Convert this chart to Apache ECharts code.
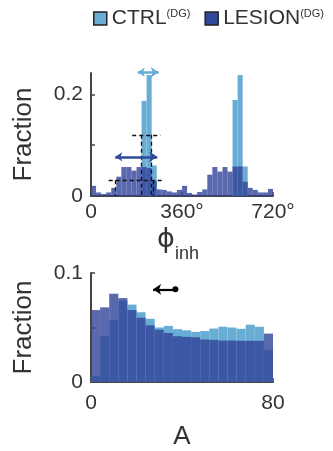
<!DOCTYPE html>
<html>
<head>
<meta charset="utf-8">
<script src="https://cdn.jsdelivr.net/npm/echarts@6/dist/echarts.min.js"></script>
<style>
  html, body { margin: 0; padding: 0; background: #fff; }
  #chart { width: 333px; height: 451px; }
</style>
</head>
<body>
<div id="chart"></div>
<script>
// Phase histogram: 36 bins of 20 degrees over 0..720
const phaseBinWidth = 20;
const phaseCtrl = [
  0, 0, 0, 0, 0, 0, 0, 0, 0, 0, 0.187, 0.238, 0.060, 0, 0, 0, 0, 0,
  0, 0, 0, 0, 0, 0, 0, 0, 0, 0, 0.189, 0.238, 0.058, 0, 0, 0, 0, 0
];
const phaseLesion = [
  0.020, 0.007, 0.004, 0.007, 0.016, 0.038, 0.057, 0.057, 0.050, 0.057, 0.057, 0.055,
  0.030, 0.013, 0.012, 0.009, 0.007, 0.012, 0.020, 0.006, 0.003, 0.008, 0.013, 0.042,
  0.057, 0.048, 0.057, 0.048, 0.058, 0.058, 0.028, 0.016, 0.012, 0.007, 0.007, 0.014
];

// Amplitude histogram: 20 bins of width 4 over 0..80
const ampBinWidth = 4;
const ampCtrl = [
  0.0055, 0.042, 0.057, 0.0745, 0.071, 0.064, 0.058, 0.050, 0.0515, 0.0485,
  0.0474, 0.046, 0.0468, 0.049, 0.0507, 0.050, 0.0488, 0.0526, 0.0507, 0.0295
];
const ampLesion = [
  0.066, 0.0685, 0.081, 0.077, 0.066, 0.059, 0.052, 0.048, 0.045, 0.042,
  0.0414, 0.041, 0.039, 0.0386, 0.038, 0.038, 0.0378, 0.0378, 0.0378, 0.0444
];

// Tick values
const phaseTicksX = [0, 360, 720];
const phaseTicksY = [0, 0.1, 0.2];
const phaseLabelsY = [0, 0.2];
const ampTicksX = [0, 40, 80];
const ampLabelsX = [0, 80];
const ampTicksY = [0, 0.05, 0.1];
const ampLabelsY = [0, 0.1];

// Width annotations on the phase panel (degrees / fraction)
const ctrlHalfLevel = 0.1205;
const ctrlHalfBar = [163, 275];
const ctrlHalfEdges = [198, 238];
const lesionHalfLevel = 0.031;
const lesionHalfBar = [70, 281];
const lesionHalfEdges = [96, 248];
const ctrlWidthArrow = { from: 185, to: 268, level: 0.2435 };
const lesionWidthArrow = { from: 96, to: 262, level: 0.077 };
// Shift arrow on the amplitude panel
const ampShiftArrow = { from: 37.1, to: 27.3, level: 0.085 };

const FONT = "'Liberation Sans', Arial, Helvetica, sans-serif";
const TEXT = '#333333';
const AXIS = '#444444';
const CTRL_COLOR = '#69add5';
const LESION_COLOR = 'rgba(49, 66, 152, 0.8)';

function binTriples(values, width) {
  return values.map((v, i) => [i * width, (i + 1) * width, v]);
}

function renderBin(params, api) {
  const x0 = api.value(0), x1 = api.value(1), v = api.value(2);
  const top = api.coord([x0, v]);
  const base = api.coord([x1, 0]);
  return {
    type: 'rect',
    shape: { x: top[0], y: top[1], width: base[0] - top[0], height: base[1] - top[1] },
    style: api.style()
  };
}

function histSeries(name, values, width, color, axisIndex) {
  return {
    type: 'custom',
    name: name,
    xAxisIndex: axisIndex,
    yAxisIndex: axisIndex,
    renderItem: renderBin,
    encode: { x: [0, 1], y: 2 },
    itemStyle: { color: color },
    data: binTriples(values, width),
    silent: true
  };
}

function segSeries(axisIndex, segments, style, symbols, symbolSize) {
  return {
    type: 'lines',
    coordinateSystem: 'cartesian2d',
    xAxisIndex: axisIndex,
    yAxisIndex: axisIndex,
    clip: false,
    silent: true,
    symbol: symbols || ['none', 'none'],
    symbolSize: symbolSize || 8,
    lineStyle: style,
    data: segments.map(s => ({ coords: s }))
  };
}

const dashed = { color: '#111', width: 1.3, type: [4, 3], opacity: 1 };

const dashedSegments = [
  [[ctrlHalfBar[0], ctrlHalfLevel], [ctrlHalfBar[1], ctrlHalfLevel]],
  [[ctrlHalfEdges[0], ctrlHalfLevel], [ctrlHalfEdges[0], 0]],
  [[ctrlHalfEdges[1], ctrlHalfLevel], [ctrlHalfEdges[1], 0]],
  [[lesionHalfBar[0], lesionHalfLevel], [lesionHalfBar[1], lesionHalfLevel]],
  [[lesionHalfEdges[0], lesionHalfLevel], [lesionHalfEdges[0], 0]],
  [[lesionHalfEdges[1], lesionHalfLevel], [lesionHalfEdges[1], 0]]
];

function axisCommon(extra) {
  return Object.assign({
    axisLine: { show: true, onZero: false, lineStyle: { color: AXIS, width: 2 } },
    axisTick: { show: true, inside: true, length: 4, lineStyle: { color: AXIS, width: 1.5 } },
    splitLine: { show: false },
    axisLabel: { color: TEXT, fontSize: 21, fontFamily: FONT },
    nameTextStyle: { color: TEXT, fontFamily: FONT }
  }, extra);
}

function withTicks(ax, ticks, labels, fmt) {
  ax.axisTick.customValues = ticks;
  ax.axisLabel.customValues = labels;
  if (fmt) ax.axisLabel.formatter = fmt;
  return ax;
}

const xTop = withTicks(axisCommon({
  type: 'value', gridIndex: 0, min: 0, max: 720,
  name: '{p|ϕ}{s|inh}', nameLocation: 'middle', nameGap: 30
}), phaseTicksX, phaseTicksX, v => (v === 0 ? '0' : v + '°'));
xTop.axisLabel.margin = 6;
xTop.nameTextStyle.padding = [0, 8, 0, 0];
xTop.nameTextStyle.rich = {
  p: { fontSize: 27, fontFamily: "'DejaVu Sans', " + FONT, color: TEXT, lineHeight: 30, verticalAlign: 'top' },
  s: { fontSize: 18, fontFamily: FONT, color: TEXT, verticalAlign: 'top', lineHeight: 18, padding: [19, 0, 0, 0] }
};

const yTop = withTicks(axisCommon({
  type: 'value', gridIndex: 0, min: 0, max: 0.242,
  name: 'Fraction', nameLocation: 'middle', nameGap: 54
}), phaseTicksY, phaseLabelsY, v => String(v));
yTop.axisLabel.margin = 8;
yTop.nameTextStyle.fontSize = 26;

const xBot = withTicks(axisCommon({
  type: 'value', gridIndex: 1, min: 0, max: 80,
  name: 'A', nameLocation: 'middle', nameGap: 42
}), ampTicksX, ampLabelsX, v => String(v));
xBot.axisLabel.margin = 11;
xBot.nameTextStyle.fontSize = 26;

const yBot = withTicks(axisCommon({
  type: 'value', gridIndex: 1, min: 0, max: 0.1,
  name: 'Fraction', nameLocation: 'middle', nameGap: 54
}), ampTicksY, ampLabelsY, v => String(v));
yBot.axisLabel.margin = 8;
yBot.nameTextStyle.fontSize = 26;

const chart = echarts.init(document.getElementById('chart'), null, { renderer: 'canvas' });

chart.setOption({
  animation: false,
  backgroundColor: '#ffffff',
  textStyle: { fontFamily: FONT },
  legend: {
    left: 93, top: 8, padding: 0,
    itemWidth: 13, itemHeight: 13, itemGap: 14,
    icon: 'rect',
    selectedMode: false,
    data: [
      { name: 'CTRL', itemStyle: { color: CTRL_COLOR, borderColor: '#222', borderWidth: 1.5, opacity: 1 } },
      { name: 'LESION', itemStyle: { color: '#2f4a9b', borderColor: '#222', borderWidth: 1.5, opacity: 1 } }
    ],
    formatter: name => '{n|' + name + '}{s|(DG)}',
    textStyle: {
      color: TEXT,
      rich: {
        n: { fontSize: 21, fontFamily: FONT, color: TEXT, lineHeight: 21 },
        s: { fontSize: 11, fontFamily: FONT, color: TEXT, verticalAlign: 'top', lineHeight: 11 }
      }
    }
  },
  grid: [
    { left: 91, top: 73, width: 182, height: 123 },
    { left: 91, top: 273, width: 182, height: 122 }
  ],
  xAxis: [xTop, xBot],
  yAxis: [yTop, yBot],
  series: [
    histSeries('CTRL', phaseCtrl, phaseBinWidth, CTRL_COLOR, 0),
    histSeries('LESION', phaseLesion, phaseBinWidth, LESION_COLOR, 0),
    histSeries('CTRL', ampCtrl, ampBinWidth, CTRL_COLOR, 1),
    histSeries('LESION', ampLesion, ampBinWidth, LESION_COLOR, 1),
    segSeries(0, dashedSegments, dashed),
    segSeries(0, [[[ctrlWidthArrow.from, ctrlWidthArrow.level], [ctrlWidthArrow.to, ctrlWidthArrow.level]]],
      { color: CTRL_COLOR, width: 2.5, opacity: 1 }, ['arrow', 'arrow'], [7, 8]),
    segSeries(0, [[[lesionWidthArrow.from, lesionWidthArrow.level], [lesionWidthArrow.to, lesionWidthArrow.level]]],
      { color: '#2f4a9b', width: 2.5, opacity: 1 }, ['arrow', 'arrow'], [7, 8]),
    segSeries(1, [[[ampShiftArrow.from, ampShiftArrow.level], [ampShiftArrow.to, ampShiftArrow.level]]],
      { color: '#000', width: 2.2, opacity: 1 }, ['circle', 'arrow'], [6, 8])
  ]
});
</script>
</body>
</html>
